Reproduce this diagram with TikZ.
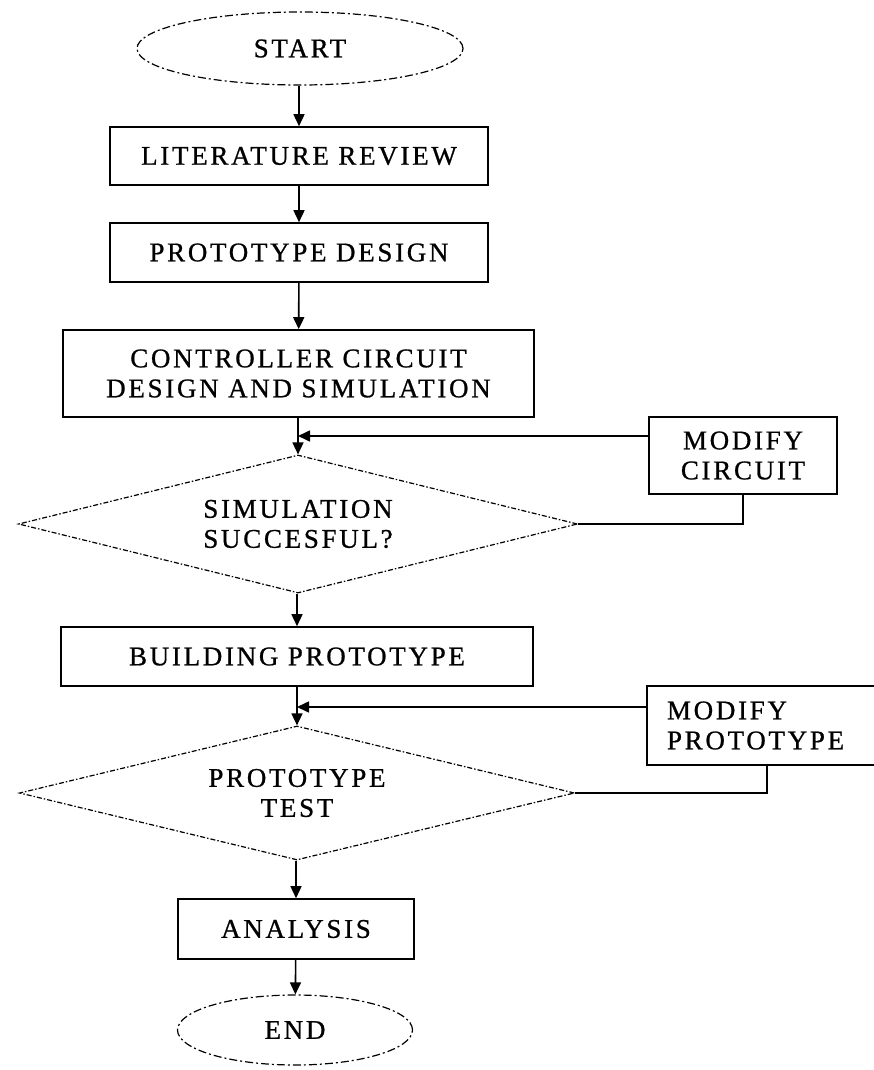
\documentclass[tikz,border=0pt]{standalone}
\usepackage{fontspec}
\setmainfont{Liberation Serif}[LetterSpace=10, FakeBold=0.8]
\usetikzlibrary{shapes.geometric,arrows.meta}

\begin{document}
\begin{tikzpicture}[x=1pt,y=-1pt,
  every node/.style={font=\fontsize{27}{30}\selectfont, text=black},
  stepbox/.style={draw=black, line width=1.6pt, rectangle, inner sep=0pt, align=center},
  terminal/.style={draw=black, line width=1.2pt, ellipse, inner sep=0pt,
    dash pattern=on 8pt off 3pt on 2pt off 3pt},
  decision/.style={draw=black, line width=1.2pt, diamond, inner sep=0pt, aspect=4, align=center,
    dash pattern=on 5pt off 2pt on 1.5pt off 2pt},
  flow/.style={line width=1.6pt, -{Triangle[length=12pt,width=11pt]}},
  link/.style={line width=1.6pt}
]
\useasboundingbox (0,0) rectangle (873,1070);

% main column
\node[terminal, minimum width=326pt, minimum height=73pt] (start) at (300,48.5) {START};
\node[stepbox, minimum width=378pt, minimum height=58pt] (lit) at (299,156) {LITERATURE REVIEW};
\node[stepbox, minimum width=378pt, minimum height=59pt] (pd) at (299,252.5) {PROTOTYPE DESIGN};
\node[stepbox, minimum width=471pt, minimum height=87pt] (ctrl) at (298.5,373.5)
  {CONTROLLER CIRCUIT\\DESIGN AND SIMULATION};
\node[decision, minimum width=559pt, minimum height=138pt] (sim) at (298,524)
  {SIMULATION\\SUCCESFUL?};
\node[stepbox, minimum width=472pt, minimum height=59pt] (build) at (297,656.5) {BUILDING PROTOTYPE};
\node[decision, minimum width=555pt, minimum height=134pt] (test) at (297,793)
  {PROTOTYPE\\TEST};
\node[stepbox, minimum width=236pt, minimum height=60pt] (ana) at (296,929) {ANALYSIS};
\node[terminal, minimum width=235pt, minimum height=70pt] (end) at (295,1030) {END};

% rework boxes
\node[stepbox, minimum width=188pt, minimum height=77pt] (modc) at (743,455.5)
  {MODIFY\\CIRCUIT};
\node[stepbox, minimum height=79pt, text width=200pt, align=left, inner xsep=20pt] (modp) at (767,725.5)
  {MODIFY\\PROTOTYPE};

% forward flow
\draw[flow] (start.south -| lit.north) -- (lit.north);
\draw[flow] (lit) -- (pd);
\draw[flow] (pd) -- (ctrl);
\draw[flow] (ctrl.south -| sim.north) -- (sim.north);
\draw[flow] (sim.south -| build.north) -- (build.north);
\draw[flow] (build.south -| test.north) -- (test.north);
\draw[flow] (test.south -| ana.north) -- (ana.north);
\draw[flow] (ana) -- (end);

% feedback loops
\coordinate (jc) at (sim.north |- 0,436);
\coordinate (jp) at (test.north |- 0,707);
\draw[flow] (modc.west |- jc) -- (jc);
\draw[link] (sim.east) -| (modc.south);
\draw[flow] (modp.west |- jp) -- (jp);
\draw[link] (test.east) -| (modp.south);
\end{tikzpicture}
\end{document}
